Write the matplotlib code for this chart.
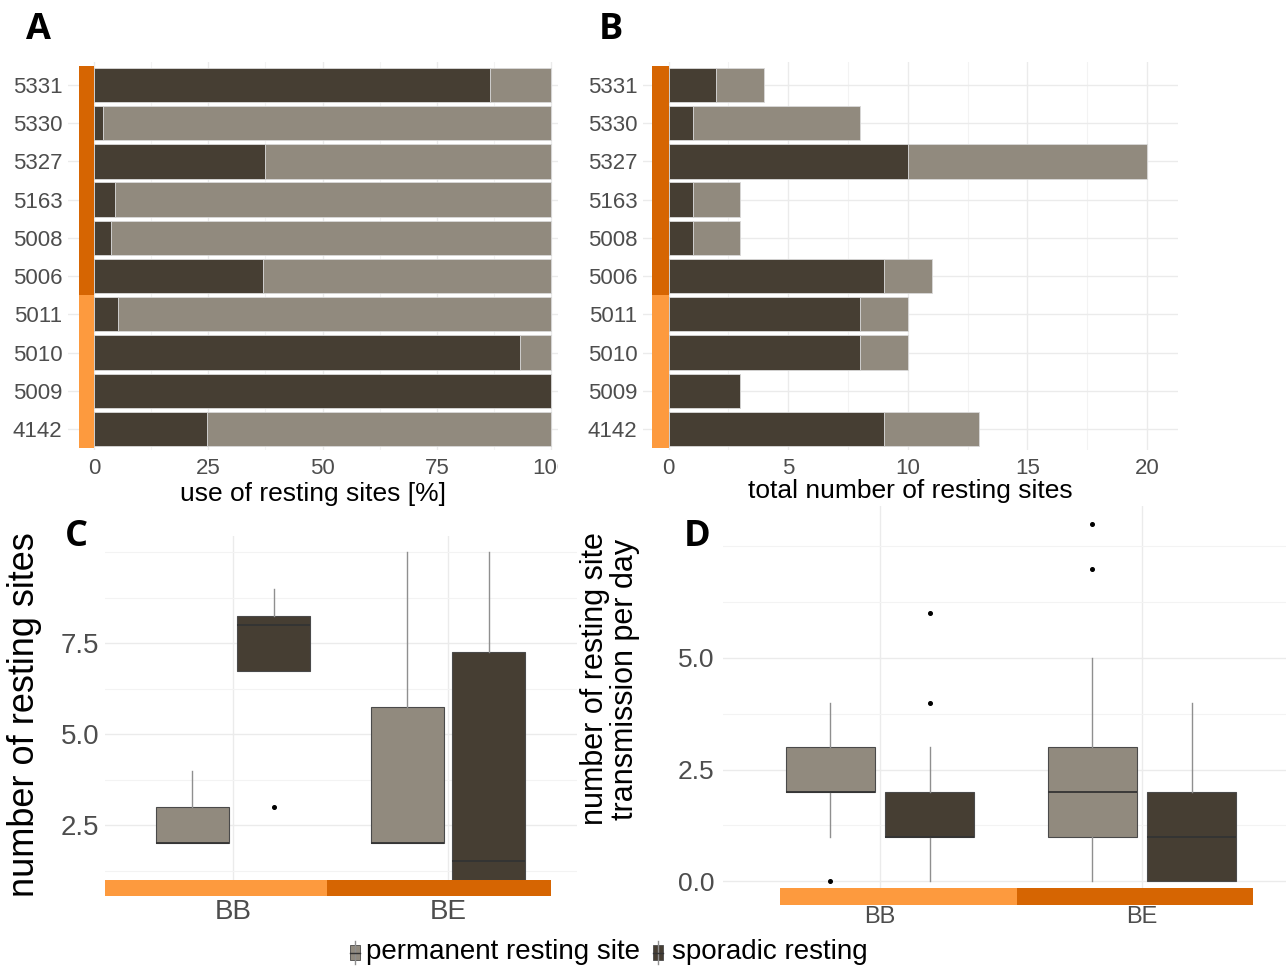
import numpy as np
import matplotlib
matplotlib.use("Agg")
import matplotlib.pyplot as plt
from matplotlib.patches import Rectangle
from matplotlib.lines import Line2D
from matplotlib.transforms import Bbox, TransformedBbox

plt.rcParams['font.family'] = ['Liberation Sans', 'DejaVu Sans']

W, H = 1286, 967

# ---- data ----
individuals = ['4142', '5009', '5010', '5011', '5006', '5008', '5163', '5327', '5330', '5331']
n_bb = 4  # first four animals are BB, the rest BE
use_sporadic = [24.7, 100, 93.2, 5.2, 37.0, 3.7, 4.5, 37.3, 2.0, 86.6]   # % of use, sporadic
use_total = [100] * 10
sites_sporadic = [9, 3, 8, 8, 9, 1, 1, 10, 1, 2]
sites_total = [13, 3, 10, 10, 11, 3, 3, 20, 8, 4]

groups = ['BB', 'BE']

# panel C: number of resting sites (box stats per group)
c_perm_lo = [2, 2]
c_perm_q1 = [2, 2]
c_perm_med = [2, 2]
c_perm_q3 = [3, 5.75]
c_perm_hi = [4, 10]
c_perm_out = [[], []]
c_spor_lo = [6.75, 1]
c_spor_q1 = [6.75, 1]
c_spor_med = [8, 1.5]
c_spor_q3 = [8.25, 7.25]
c_spor_hi = [9, 10]
c_spor_out = [[3], []]

# panel D: resting site transmissions per day
d_perm_lo = [1, 0]
d_perm_q1 = [2, 1]
d_perm_med = [2, 2]
d_perm_q3 = [3, 3]
d_perm_hi = [4, 5]
d_perm_out = [[0], [7, 8]]
d_spor_lo = [0, 0]
d_spor_q1 = [1, 0]
d_spor_med = [1, 1]
d_spor_q3 = [2, 2]
d_spor_hi = [3, 4]
d_spor_out = [[4, 6], []]

col_perm = '#918a7e'
col_spor = '#463e33'
col_bb = '#fd9a3e'
col_be = '#d66502'
grid_col = '#ebebeb'
tick_col = '#4d4d4d'


def rect(l, t, r, b):
    return [l / W, 1 - b / H, (r - l) / W, (b - t) / H]


fig = plt.figure(figsize=(W / 100, H / 100), dpi=100)


def style(ax):
    for s in ax.spines.values():
        s.set_visible(False)
    ax.tick_params(which='both', length=0, colors=tick_col)
    ax.grid(True, which='major', color=grid_col, lw=1.0, zorder=0)
    ax.grid(True, which='minor', color='#f3f3f3', lw=0.8, zorder=0)
    ax.set_axisbelow(True)


def bar_panel(ax, spor, total, strip_x0):
    y = np.arange(len(individuals))
    spor = np.array(spor, float)
    total = np.array(total, float)
    ax.barh(y, total - spor, left=spor, height=0.9, color=col_perm,
            edgecolor='#d9d9d9', lw=0.6, zorder=2)
    ax.barh(y, spor, height=0.9, color=col_spor, edgecolor='#d9d9d9', lw=0.6, zorder=3)
    ax.add_patch(Rectangle((strip_x0, -0.5), -strip_x0, n_bb, color=col_bb, zorder=4, lw=0))
    ax.add_patch(Rectangle((strip_x0, n_bb - 0.5), -strip_x0, len(individuals) - n_bb,
                           color=col_be, zorder=4, lw=0))
    ax.set_yticks(y)
    ax.set_yticklabels(individuals, fontsize=16)
    ax.tick_params(axis='y', pad=4)
    ax.tick_params(axis='x', pad=6, labelsize=16)
    ax.grid(False, axis='y', which='minor')


# ---- A ----
axA = fig.add_axes(rect(68, 62, 558, 450))
style(axA)
bar_panel(axA, use_sporadic, use_total, -3.3)
axA.set_xlim(-5.7, 101.5)
axA.set_ylim(-0.55, 9.6)
axA.set_xticks([0, 25, 50, 75, 100])
axA.set_xticks([12.5, 37.5, 62.5, 87.5], minor=True)
axA.set_xlabel('use of resting sites [%]', fontsize=19, labelpad=2)
# the 100 label is cut off at the panel edge in the original
clip = TransformedBbox(Bbox([[0, 0], [557.5 / W, 1]]), fig.transFigure)
for t in axA.get_xticklabels():
    t.set_clip_on(True)
    t.set_clip_box(clip)

# ---- B ----
axB = fig.add_axes(rect(643, 62, 1178, 450))
style(axB)
bar_panel(axB, sites_sporadic, sites_total, -0.69)
axB.set_xlim(-1.07, 21.3)
axB.set_ylim(-0.55, 9.6)
axB.set_xticks([0, 5, 10, 15, 20])
axB.set_xticks([2.5, 7.5, 12.5, 17.5], minor=True)
axB.set_xlabel('total number of resting sites', fontsize=19, labelpad=0)


def box_stats(lo, q1, med, q3, hi, out):
    return [dict(whislo=lo[i], q1=q1[i], med=med[i], q3=q3[i], whishi=hi[i], fliers=out[i])
            for i in range(len(groups))]


def box_panel(ax, perm, spor):
    pos = np.arange(1, len(groups) + 1)
    for stats, col, off in [(perm, col_perm, -0.19), (spor, col_spor, 0.19)]:
        ax.bxp(stats, positions=pos + off, widths=0.34, patch_artist=True,
               showcaps=False, manage_ticks=False,
               boxprops=dict(facecolor=col, edgecolor='#4a4a4a', lw=0.8),
               medianprops=dict(color='#333333', lw=1.3),
               whiskerprops=dict(color='#8f8f8f', lw=1.0),
               flierprops=dict(marker='o', markersize=2.6, markerfacecolor='black',
                               markeredgecolor='black'),
               zorder=3)
    ax.set_xticks(pos)
    ax.set_xticklabels(groups)


# ---- C ----
axC = fig.add_axes(rect(105, 536, 577, 896))
style(axC)
box_panel(axC,
          box_stats(c_perm_lo, c_perm_q1, c_perm_med, c_perm_q3, c_perm_hi, c_perm_out),
          box_stats(c_spor_lo, c_spor_q1, c_spor_med, c_spor_q3, c_spor_hi, c_spor_out))
axC.set_xlim(0.405, 2.6)
axC.set_ylim(0.55, 10.45)
axC.set_yticks([2.5, 5.0, 7.5])
axC.set_yticklabels(['2.5', '5.0', '7.5'])
axC.set_yticks([1.25, 3.75, 6.25, 8.75, 10], minor=True)
axC.tick_params(axis='y', labelsize=20, pad=4)
axC.tick_params(axis='x', labelsize=20, pad=2)
axC.add_patch(Rectangle((0.405, 0.55), 1.437 - 0.405, 0.43, color=col_bb, lw=0, zorder=4))
axC.add_patch(Rectangle((1.437, 0.55), 2.479 - 1.437, 0.43, color=col_be, lw=0, zorder=4))
fig.text(25 / W, 1 - 715 / H, 'number of resting sites', rotation=90, fontsize=26,
         ha='center', va='center')

# ---- D ----
axD = fig.add_axes(rect(723, 506, 1286, 905))
style(axD)
box_panel(axD,
          box_stats(d_perm_lo, d_perm_q1, d_perm_med, d_perm_q3, d_perm_hi, d_perm_out),
          box_stats(d_spor_lo, d_spor_q1, d_spor_med, d_spor_q3, d_spor_hi, d_spor_out))
axD.set_xlim(0.4, 2.55)
axD.set_ylim(-0.53, 8.4)
axD.set_yticks([0, 2.5, 5.0])
axD.set_yticklabels(['0.0', '2.5', '5.0'])
axD.set_yticks([1.25, 3.75, 6.25, 7.5], minor=True)
axD.tick_params(axis='y', labelsize=19, pad=6)
axD.tick_params(axis='x', labelsize=17, pad=1)
axD.add_patch(Rectangle((0.618, -0.53), 1.523 - 0.618, 0.39, color=col_bb, lw=0, zorder=4))
axD.add_patch(Rectangle((1.523, -0.53), 2.424 - 1.523, 0.39, color=col_be, lw=0, zorder=4))
fig.text(610 / W, 1 - 679 / H, 'number of resting site\ntransmission per day', rotation=90,
         fontsize=22, ha='center', va='center', linespacing=1.0, multialignment='center')

# ---- panel letters ----
for lbl, x, y in [('A', 38, 30), ('B', 611, 30), ('C', 76, 537), ('D', 697, 537)]:
    fig.text(x / W, 1 - y / H, lbl, fontsize=26, fontweight='bold', family='Open Sans',
             ha='center', va='center')

# ---- legend ----
for kx, col, lbl, tx in [(350, col_perm, 'permanent resting site', 366),
                         (653, col_spor, 'sporadic resting', 672)]:
    cx = kx + 5
    fig.add_artist(Line2D([cx / W, cx / W], [1 - 941 / H, 1 - 964 / H], color='#8f8f8f',
                          lw=1.0, transform=fig.transFigure))
    fig.add_artist(Rectangle((kx / W, 1 - 960 / H), 10 / W, 15 / H, facecolor=col,
                             edgecolor='#4a4a4a', lw=0.6, transform=fig.transFigure))
    fig.add_artist(Line2D([kx / W, (kx + 10) / W], [1 - 952.5 / H, 1 - 952.5 / H],
                          color='#333333', lw=1.0, transform=fig.transFigure))
    fig.text(tx / W, 1 - 952 / H, lbl, fontsize=20, ha='left', va='center')

fig.savefig('out.png', dpi=100)
